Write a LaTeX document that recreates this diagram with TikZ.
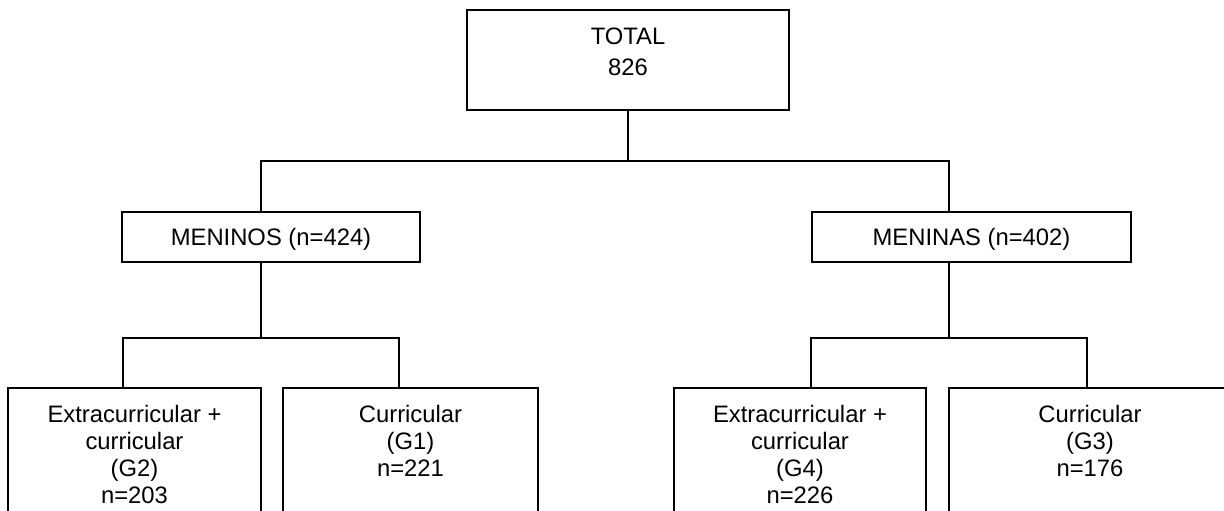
\documentclass[tikz,border=0pt]{standalone}
\usepackage{fontspec}
\setmainfont{Liberation Sans}
\begin{document}
\begin{tikzpicture}[x=1pt,y=-1pt,
  boxshape/.style={draw=black, line width=1.8pt, inner sep=0pt, fill=white},
  lbl/.style={inner sep=0pt, align=center, font=\fontsize{23.8}{27}\selectfont},
  conn/.style={draw=black, line width=1.8pt}]
\useasboundingbox (0,0) rectangle (1224,511);
\clip (0,0) rectangle (1224,511);
% boxes
\node[boxshape, minimum width=322pt, minimum height=100pt] (total) at (628,60) {};
\node[boxshape, minimum width=298pt, minimum height=50pt] (meninos) at (271,237) {};
\node[boxshape, minimum width=319pt, minimum height=50pt] (meninas) at (971.5,237) {};
\node[boxshape, minimum width=253pt, minimum height=142pt] (g2) at (134.5,459) {};
\node[boxshape, minimum width=255pt, minimum height=142pt] (g1) at (410.5,459) {};
\node[boxshape, minimum width=252pt, minimum height=142pt] (g4) at (800,459) {};
\node[boxshape, minimum width=282pt, minimum height=142pt] (g3) at (1090,459) {};
% texts
\node[lbl, font=\fontsize{23.8}{30.5}\selectfont, anchor=north] (ttotal) at (628,28) {TOTAL\\826};
\node[lbl, anchor=base] (tmeninos) at (271,245) {MENINOS (n=424)};
\node[lbl, anchor=base] (tmeninas) at (971.5,245) {MENINAS (n=402)};
\node[lbl, anchor=north] (tg2) at (134.5,405) {Extracurricular +\\curricular\\(G2)\\n=203};
\node[lbl, anchor=north] (tg1) at (410.5,405) {Curricular\\(G1)\\n=221};
\node[lbl, anchor=north] (tg4) at (800,405) {Extracurricular +\\curricular\\(G4)\\n=226};
\node[lbl, anchor=north] (tg3) at (1090,405) {Curricular\\(G3)\\n=176};
% attach points and junctions
\coordinate (jt) at (628,161);
\coordinate (mo-top) at (261,212);
\coordinate (ma-top) at (949,212);
\coordinate (mo-bot) at (261,262);
\coordinate (ma-bot) at (949,262);
\coordinate (jl) at (261,338);
\coordinate (jr) at (949,338);
\coordinate (g2-top) at (123,388);
\coordinate (g1-top) at (399,388);
\coordinate (g4-top) at (811,388);
\coordinate (g3-top) at (1087,388);
% connectors
\draw[conn] (total.south) -- (jt) -| (mo-top);
\draw[conn] (jt) -| (ma-top);
\draw[conn] (mo-bot) -- (jl) -| (g2-top);
\draw[conn] (jl) -| (g1-top);
\draw[conn] (ma-bot) -- (jr) -| (g4-top);
\draw[conn] (jr) -| (g3-top);
\end{tikzpicture}
\end{document}
